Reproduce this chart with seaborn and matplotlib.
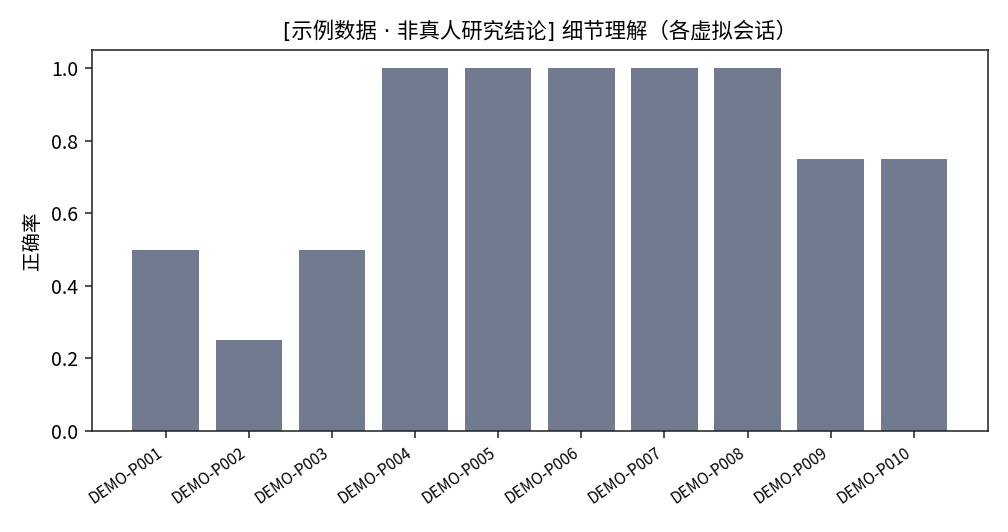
import pandas as pd
import matplotlib
matplotlib.use("Agg")
import matplotlib.pyplot as plt
import seaborn as sns

sessions = ["DEMO-P001", "DEMO-P002", "DEMO-P003", "DEMO-P004", "DEMO-P005",
            "DEMO-P006", "DEMO-P007", "DEMO-P008", "DEMO-P009", "DEMO-P010"]
accuracy = [0.5, 0.25, 0.5, 1.0, 1.0, 1.0, 1.0, 1.0, 0.75, 0.75]

sns.set_style("ticks")
plt.rcParams['font.family'] = ['Noto Sans CJK SC', 'DejaVu Sans']
plt.rcParams['axes.unicode_minus'] = False
plt.rcParams['text.color'] = 'black'
plt.rcParams['axes.labelcolor'] = 'black'
plt.rcParams['xtick.color'] = '#222222'
plt.rcParams['ytick.color'] = '#222222'
plt.rcParams['xtick.labelcolor'] = 'black'
plt.rcParams['ytick.labelcolor'] = 'black'

df = pd.DataFrame({"session": sessions, "accuracy": accuracy})

fig, ax = plt.subplots(figsize=(7.2, 3.8), dpi=140)
sns.barplot(data=df, x="session", y="accuracy", color="#717a8e",
            saturation=1, width=0.8, linewidth=0, edgecolor="none", ax=ax)

# match matplotlib's default bar margins
n = len(sessions)
pad = 0.05 * (n - 1 + 0.8)
ax.set_xlim(-0.4 - pad, n - 1 + 0.4 + pad)
ax.set_ylim(0, 1.05)

ax.set_title("[示例数据 · 非真人研究结论] 细节理解（各虚拟会话）", fontsize=11,
             family=['DejaVu Sans', 'Noto Sans CJK SC'], color='black')
ax.set_xlabel("")
ax.set_ylabel("正确率", fontsize=10)
plt.setp(ax.get_xticklabels(), rotation=35, ha="right", fontsize=8)
ax.tick_params(axis="y", labelsize=10)
for s in ax.spines.values():
    s.set_visible(True)
    s.set_color("#222222")

fig.subplots_adjust(left=0.091, right=0.980, top=0.906, bottom=0.190)
fig.savefig("out.png", dpi=140)
